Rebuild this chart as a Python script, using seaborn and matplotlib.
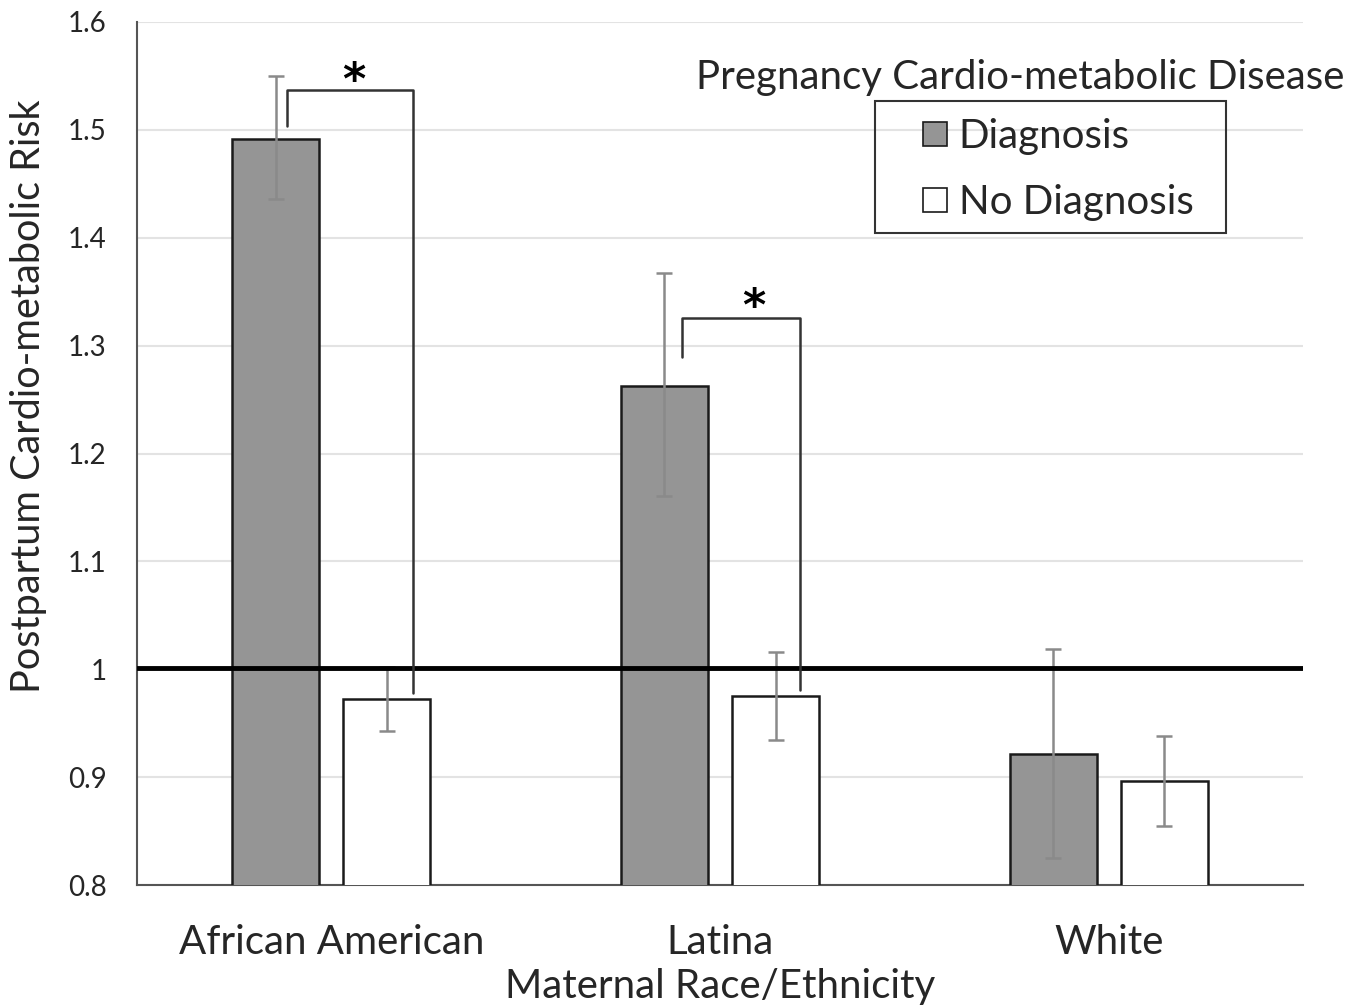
import matplotlib
matplotlib.use("Agg")
import matplotlib.pyplot as plt
import seaborn as sns
import pandas as pd
from matplotlib.lines import Line2D
from matplotlib.patches import Rectangle

# values
groups = ["African American", "Latina", "White"]
diagnosis = ["Diagnosis", "No Diagnosis"]
risk_dx = [1.492, 1.263, 0.921]
risk_nodx = [0.972, 0.975, 0.896]
err_lo_dx = [1.436, 1.161, 0.825]
err_hi_dx = [1.550, 1.367, 1.019]
err_lo_nodx = [0.943, 0.934, 0.855]
err_hi_nodx = [1.002, 1.016, 0.938]
y_ticks = [0.8, 0.9, 1.0, 1.1, 1.2, 1.3, 1.4, 1.5, 1.6]
y_tick_labels = ["0.8", "0.9", "1", "1.1", "1.2", "1.3", "1.4", "1.5", "1.6"]

df = pd.DataFrame({
    "group": groups * 2,
    "status": [diagnosis[0]] * 3 + [diagnosis[1]] * 3,
    "risk": risk_dx + risk_nodx,
    "lo": err_lo_dx + err_lo_nodx,
    "hi": err_hi_dx + err_hi_nodx,
})

sns.set_style("white")
plt.rcParams["font.family"] = ["Lato", "DejaVu Sans"]

W, H = 1361, 1007
fig = plt.figure(figsize=(W / 100, H / 100), dpi=100)
ax = fig.add_axes([137 / W, 1 - 885 / H, (1303 - 137) / W, (885 - 22) / H])

palette = {"Diagnosis": "#959595", "No Diagnosis": "#ffffff"}
sns.barplot(data=df, x="group", y="risk", hue="status", order=groups,
            hue_order=diagnosis, palette=palette, width=0.572, gap=0.217,
            edgecolor="#1a1a1a", linewidth=1.8, errorbar=None, legend=False,
            zorder=3, ax=ax)

# error bars at the centre of each bar
for i, status in enumerate(diagnosis):
    sub = df[df["status"] == status].set_index("group").loc[groups]
    bars = ax.containers[i]
    xs = [b.get_x() + b.get_width() / 2 for b in bars]
    ax.errorbar(xs, sub["risk"], yerr=[sub["risk"] - sub["lo"], sub["hi"] - sub["risk"]],
                fmt="none", ecolor="#8a8a8a", elinewidth=1.8, capsize=6, capthick=1.8, zorder=5)

ax.axhline(1.001, color="black", lw=3.5, zorder=6)

# significance brackets: left x, right x, left foot, top, right foot, star x, star y
brackets = [(-0.114, 0.210, 1.504, 1.537, 0.978, 0.058, 1.545),
            (0.902, 1.206, 1.289, 1.326, 0.981, 1.088, 1.335)]
for x0, x1, y0, ytop, y1, sx, sy in brackets:
    ax.plot([x0, x0, x1, x1], [y0, ytop, ytop, y1], color="#333333", lw=1.8, zorder=7)
    ax.text(sx, sy, "*", ha="center", va="center", fontsize=32,
            fontweight="bold", color="black", family="DejaVu Sans")

ax.set_xlim(-0.5, 2.5)
ax.set_ylim(0.8, 1.6)
ax.set_yticks(y_ticks)
ax.set_yticklabels(y_tick_labels, fontsize=20)
ax.yaxis.grid(True, color="#e3e3e3", lw=1.5, zorder=0)
ax.set_axisbelow(True)
ax.tick_params(axis="x", labelsize=29, pad=28, length=0)
ax.tick_params(axis="y", pad=22, length=0)
ax.set_xlabel("Maternal Race/Ethnicity", fontsize=29, labelpad=5)
ax.set_ylabel("Postpartum Cardio-metabolic Risk", fontsize=28.5)
ax.yaxis.set_label_coords((47 - 137) / 1166, (885 - 396) / 863)
for s in ["top", "right"]:
    ax.spines[s].set_visible(False)
for s in ["left", "bottom"]:
    ax.spines[s].set_color("#555555")
    ax.spines[s].set_linewidth(1.5)

handles = [Line2D([], [], ls="none", marker="s", markersize=17, markerfacecolor=palette[d],
                  markeredgecolor="#1a1a1a", markeredgewidth=1.2, label=d) for d in diagnosis]
leg = ax.legend(handles=handles, loc="upper left", bbox_to_anchor=(875 / W, 1 - 101 / H),
                bbox_transform=fig.transFigure, fontsize=29, frameon=False,
                handlelength=2.1, handletextpad=-0.45, borderpad=0.43,
                labelspacing=0.72, borderaxespad=0, numpoints=1)
fig.patches.append(Rectangle((875 / W, 1 - 233 / H), 351 / W, 132 / H, transform=fig.transFigure,
                             fill=False, edgecolor="#333333", lw=1.5, zorder=10))
fig.text(1020 / W, 1 - 78 / H, "Pregnancy Cardio-metabolic Disease", ha="center",
         va="center", fontsize=29)

fig.savefig("out.png", dpi=100)
plt.close(fig)
